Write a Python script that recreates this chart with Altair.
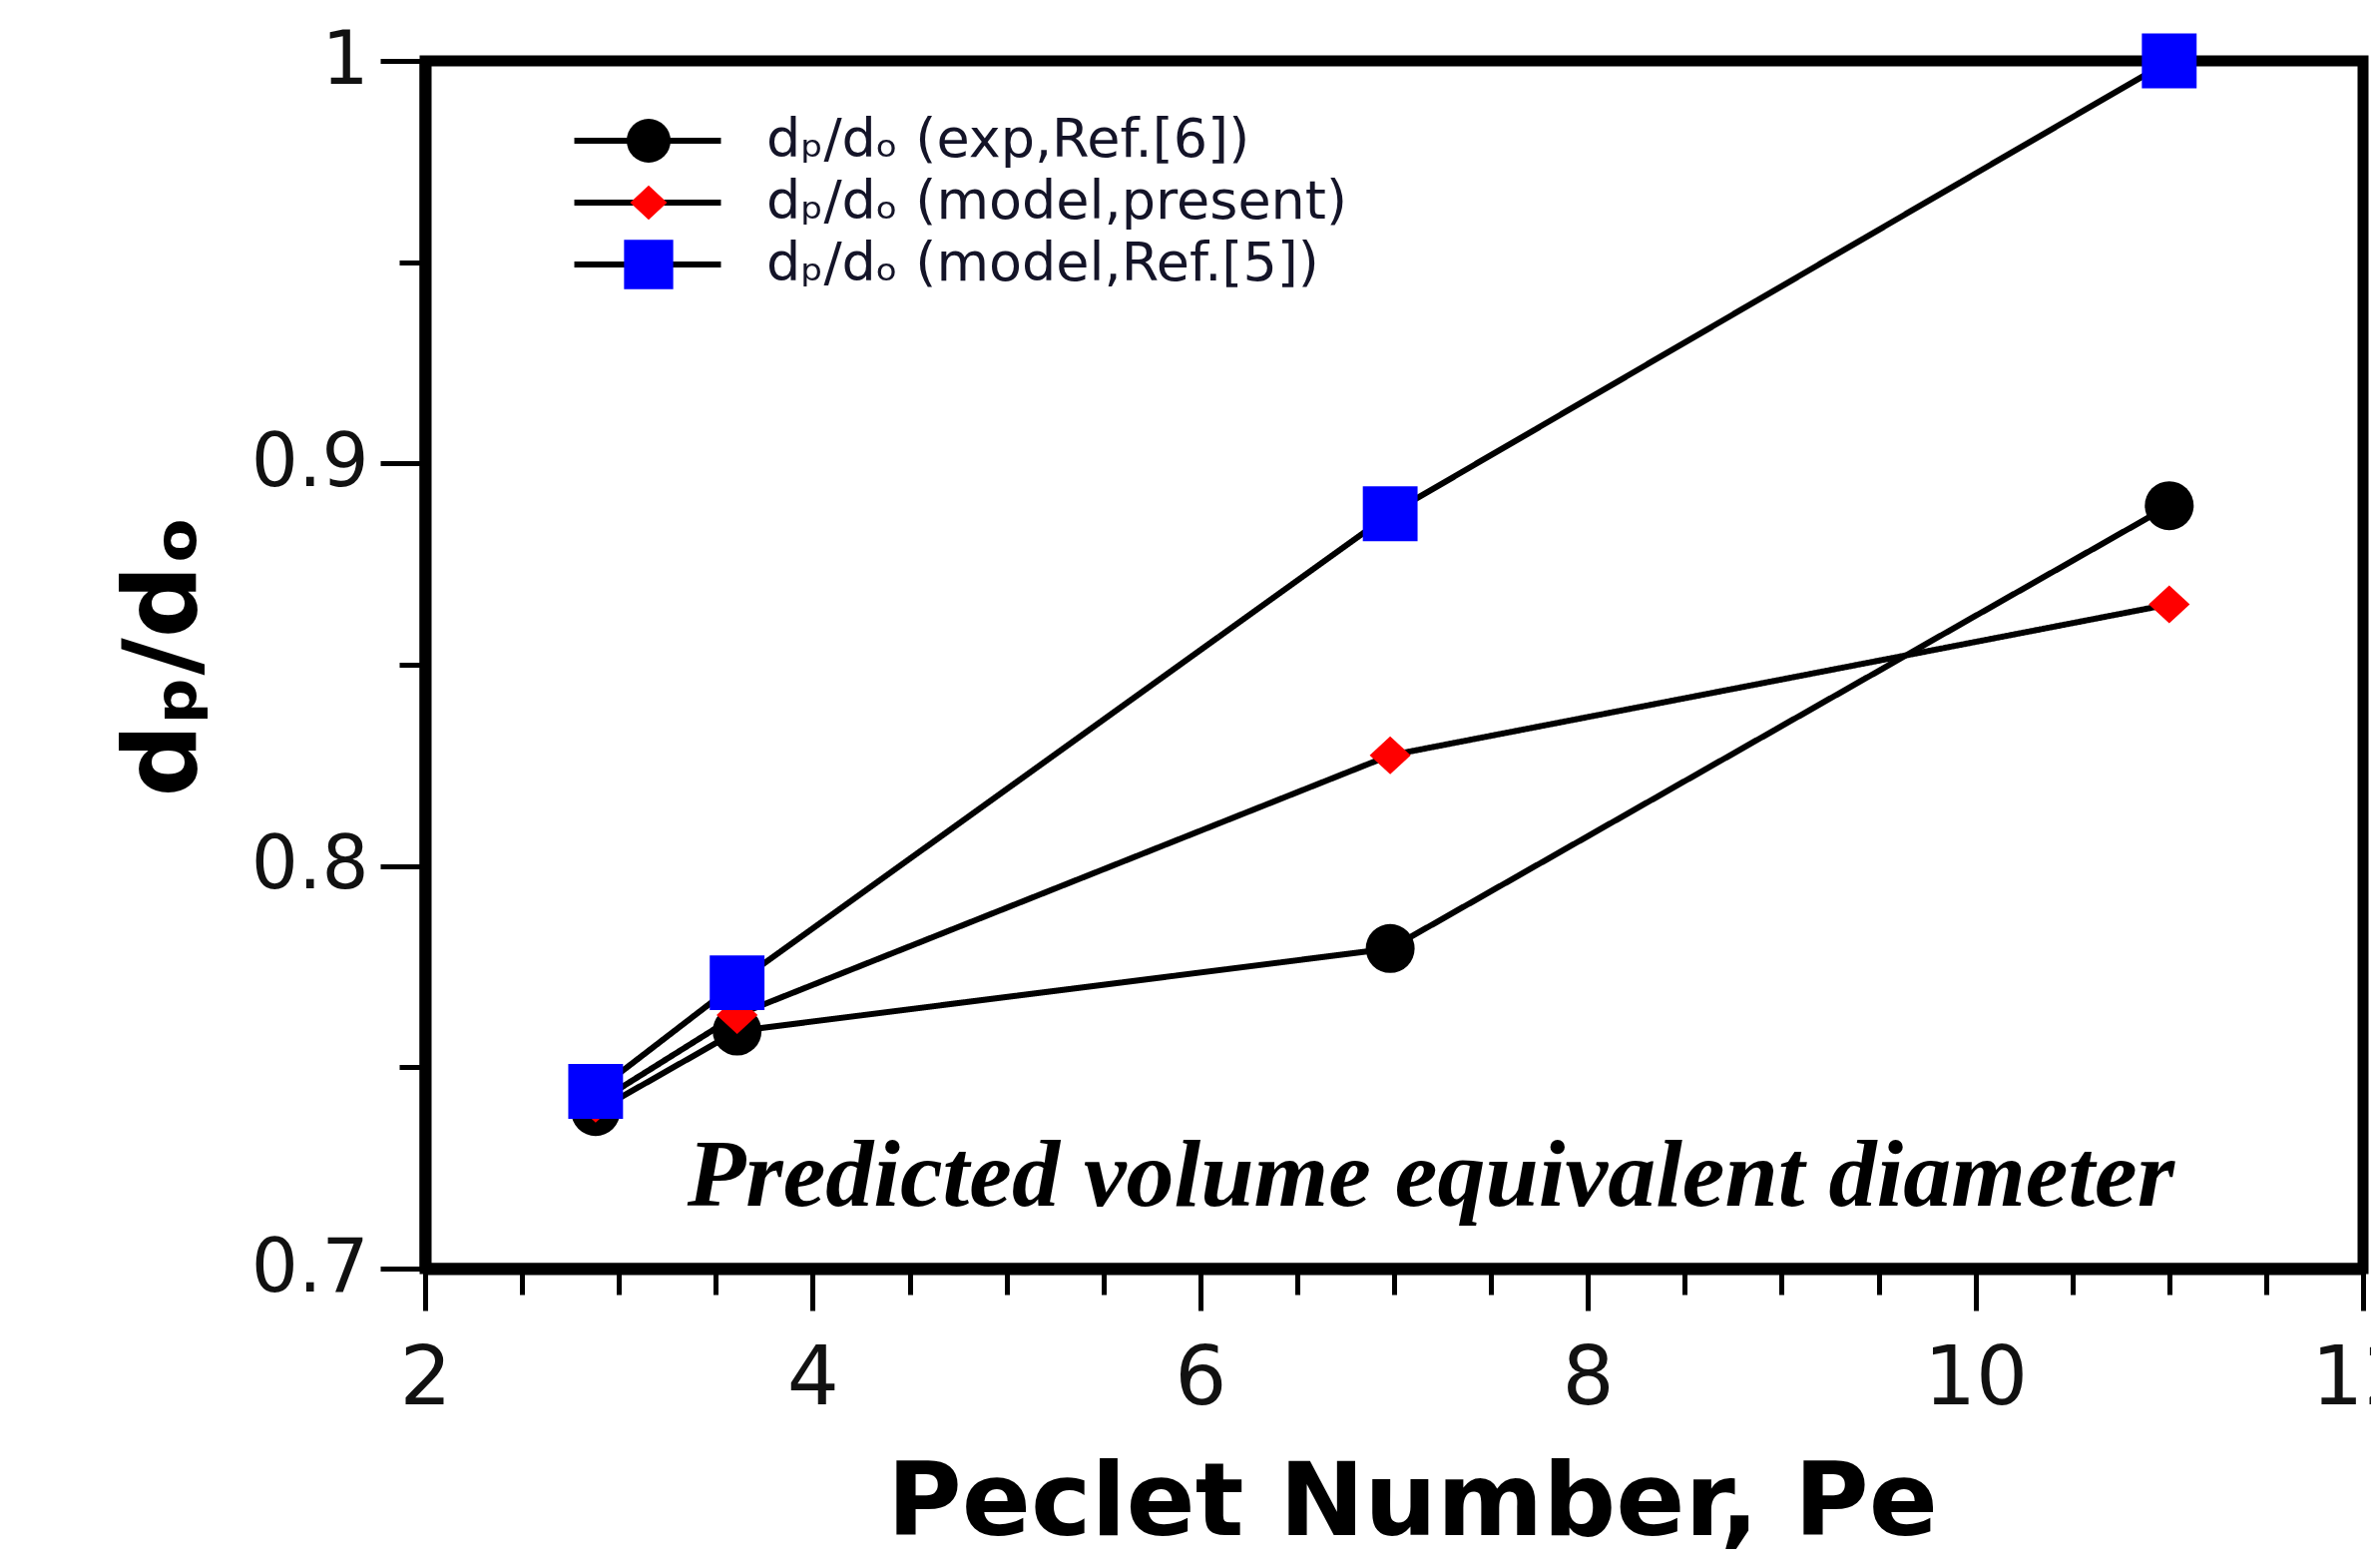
import altair as alt
import pandas as pd

# ---- data ----
series_labels = ["dₚ/dₒ (exp,Ref.[6])", "dₚ/dₒ (model,present)", "dₚ/dₒ (model,Ref.[5])"]
pe_values = [2.88, 3.61, 6.98, 11.0]
exp_vals = [0.739, 0.759, 0.7795, 0.8895]
present_vals = [0.741, 0.763, 0.8275, 0.865]
ref5_vals = [0.744, 0.771, 0.8875, 1.0]

x_ticks = [2 + 0.5 * i for i in range(21)]
y_ticks = [0.7, 0.75, 0.8, 0.85, 0.9, 0.95, 1.0]

annotation = "Predicted volume equivalent diameter"

rows = []
for lab, vals in zip(series_labels, [exp_vals, present_vals, ref5_vals]):
    for p, v in zip(pe_values, vals):
        rows.append({"Pe": p, "ratio": v, "Series": lab, "SeriesLine": lab})
df = pd.DataFrame(rows)

diamond = "M-0.84,0L0,-0.78L0.84,0L0,0.78Z"
square = "M-1.12,-1.12H1.12V1.12H-1.12Z"

x_enc = alt.X(
    "Pe:Q",
    scale=alt.Scale(domain=[2, 12], nice=False, zero=False),
    axis=alt.Axis(
        values=x_ticks,
        format="~g",
        labelExpr="datum.value % 2 === 0 ? datum.label : ''",
        tickSize={"condition": {"test": "datum.value % 2 === 0", "value": 42}, "value": 26},
        tickWidth=5,
        tickColor="black",
        domainColor="black",
        domainWidth=12,
        labelFont="DejaVu Sans",
        labelFontSize=82,
        labelColor="#111111",
        labelPadding=28,
        labelFlush=False,
        labelOverlap=False,
        grid=False,
        title="Peclet Number, Pe",
        titleFont="DejaVu Sans",
        titleFontWeight="bold",
        titleFontSize=102,
        titleColor="black",
        titleX=989,
        titleY=266,
        titleAlign="center",
        titleBaseline="alphabetic",
    ),
)

y_test = "abs(datum.value*10 - round(datum.value*10)) < 0.001"
y_enc = alt.Y(
    "ratio:Q",
    scale=alt.Scale(domain=[0.7, 1.0], nice=False, zero=False),
    axis=alt.Axis(
        values=y_ticks,
        format="~g",
        labelExpr=f"{y_test} ? datum.label : ''",
        tickSize={"condition": {"test": y_test, "value": 45}, "value": 26},
        tickWidth=5,
        tickColor="black",
        domainColor="black",
        domainWidth=12,
        labelFont="DejaVu Sans",
        labelFontSize=74,
        labelColor="#111111",
        labelPadding=12,
        labelOverlap=False,
        grid=False,
        title="dₚ/dₒ",
        titleFont="DejaVu Sans",
        titleFontWeight="bold",
        titleFontSize=102,
        titleColor="black",
        titleAngle=270,
        titleX=-231,
        titleY=596,
        titleAlign="center",
        titleBaseline="alphabetic",
    ),
)

common_legend = dict(
    title=None,
    orient="none",
    symbolSize=1936,
    symbolStrokeWidth=6,
    labelFont="DejaVu Sans",
    labelFontSize=54,
    labelOffset=91,
    labelLimit=0,
    rowPadding=6,
    clipHeight=56,
    padding=0,
)

line_legend = alt.Legend(
    legendX=147, legendY=52,
    symbolOffset=49,
    symbolType="M-3.34,0H3.34",
    symbolStrokeColor="black",
    labelOpacity=0,
    **common_legend,
)

point_legend = alt.Legend(
    legendX=197, legendY=52,
    symbolStrokeColor="transparent",
    labelColor="#141428",
    **common_legend,
)

lines = alt.Chart(df).mark_line(color="black", strokeWidth=6).encode(
    x=x_enc,
    y=y_enc,
    strokeDash=alt.StrokeDash(
        "SeriesLine:N",
        scale=alt.Scale(range=[[1, 0], [1, 0], [1, 0]]),
        legend=line_legend,
    ),
)

points = alt.Chart(df).mark_point(filled=True, opacity=1, size=2401, strokeWidth=0).encode(
    x=x_enc,
    y=y_enc,
    color=alt.Color(
        "Series:N",
        scale=alt.Scale(domain=series_labels, range=["#000000", "#ff0000", "#0000ff"]),
        legend=point_legend,
    ),
    shape=alt.Shape(
        "Series:N",
        scale=alt.Scale(domain=series_labels, range=["circle", diamond, square]),
        legend=point_legend,
    ),
)

text = alt.Chart(pd.DataFrame({"t": [annotation]})).mark_text(
    font="Liberation Serif",
    fontStyle="italic",
    fontWeight="bold",
    fontSize=96,
    color="black",
    align="center",
    baseline="alphabetic",
).encode(
    x=alt.datum(7.19),
    y=alt.datum(0.7155),
    text="t:N",
)

chart = alt.layer(lines, points, text).properties(
    width=1942,
    height=1210,
    autosize=alt.AutoSizeParams(type="none"),
    padding={"left": 418, "top": 53, "right": 8, "bottom": 287},
    background="white",
).configure_view(
    stroke="black",
    strokeWidth=11,
)

chart.save("out.html", embed_options={"renderer": "svg", "actions": False})
